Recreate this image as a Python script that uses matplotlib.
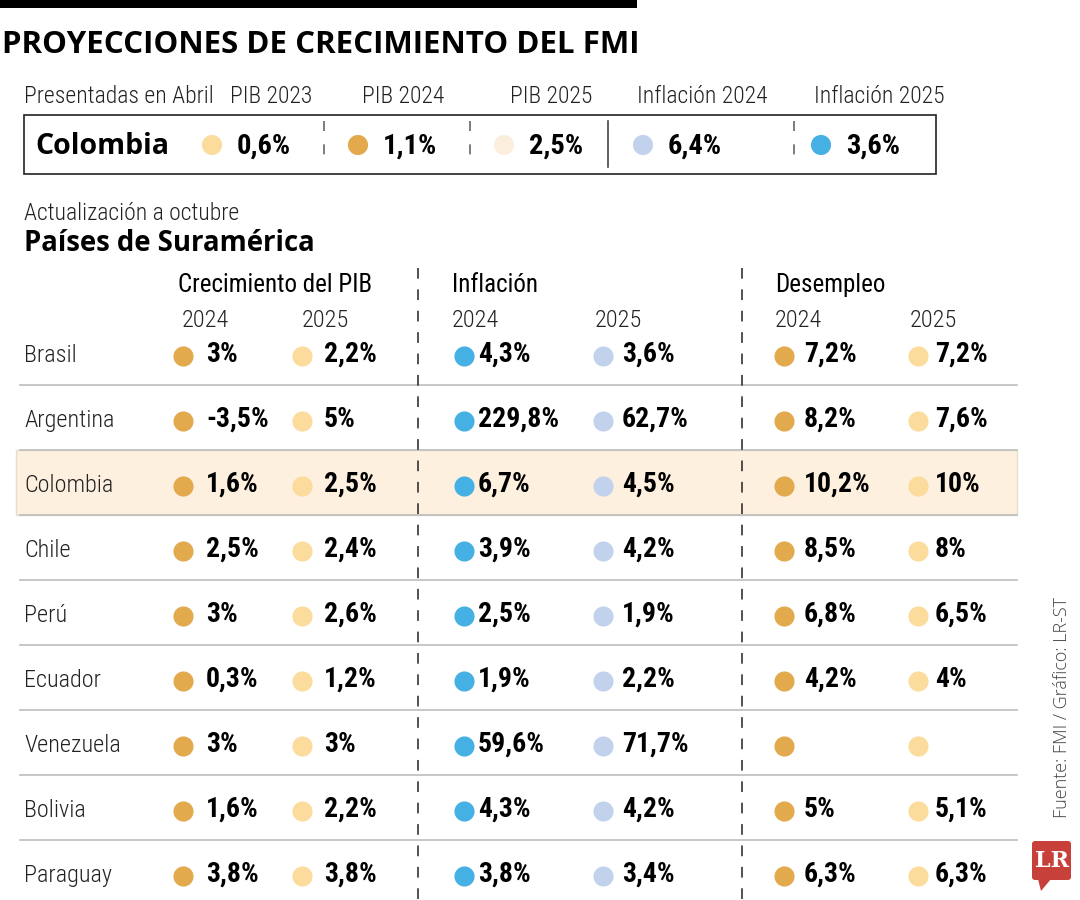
import matplotlib
matplotlib.use('Agg')
import matplotlib.pyplot as plt
from matplotlib import font_manager as fm
from matplotlib.patches import Rectangle, FancyBboxPatch, Polygon

# Datos (FMI)
legend_labels = ['PIB 2023', 'PIB 2024', 'PIB 2025', 'Inflación 2024', 'Inflación 2025']
legend_values = [0.6, 1.1, 2.5, 6.4, 3.6]

countries = ['Brasil', 'Argentina', 'Colombia', 'Chile', 'Perú', 'Ecuador',
             'Venezuela', 'Bolivia', 'Paraguay']
pib_2024 = [3, -3.5, 1.6, 2.5, 3, 0.3, 3, 1.6, 3.8]
pib_2025 = [2.2, 5, 2.5, 2.4, 2.6, 1.2, 3, 2.2, 3.8]
inf_2024 = [4.3, 229.8, 6.7, 3.9, 2.5, 1.9, 59.6, 4.3, 3.8]
inf_2025 = [3.6, 62.7, 4.5, 4.2, 1.9, 2.2, 71.7, 4.2, 3.4]
des_2024 = [7.2, 8.2, 10.2, 8.5, 6.8, 4.2, None, 5, 6.3]
des_2025 = [7.2, 7.6, 10, 8, 6.5, 4, None, 5.1, 6.3]

groups = ['Crecimiento del PIB', 'Inflación', 'Desempleo']
years = ['2024', '2025']

GOLD = '#E2A94D'
LIGHT_GOLD = '#FCDC9C'
CREAM = '#FCEEDD'
LIGHT_BLUE = '#C3D2EC'
BLUE = '#45B0E4'

available = {f.name for f in fm.fontManager.ttflist}


def pick(*names):
    return next((n for n in names if n in available), 'DejaVu Sans')


NARROW = pick('Liberation Sans Narrow', 'Roboto Condensed', 'Open Sans Condensed', 'DejaVu Sans')
HUMAN = pick('Open Sans', 'Noto Sans', 'DejaVu Sans')


def fmt(v):
    if v is None:
        return ''
    return '{:g}'.format(v).replace('.', ',') + '%'


fig = plt.figure(figsize=(10.8, 9), dpi=100)
ax = fig.add_axes([0, 0, 1, 1])
ax.set_xlim(0, 1080)
ax.set_ylim(900, 0)
ax.axis('off')

# barra superior y titulo
ax.add_patch(Rectangle((0, 0), 637, 8, color='black', lw=0))
ax.text(2, 53, 'PROYECCIONES DE CRECIMIENTO DEL FMI', family=HUMAN, weight='bold',
        fontsize=22.5, va='baseline', ha='left', color='black')

# Presentadas en abril
head_x = [230, 362, 510, 637, 814]
ax.text(24, 103, 'Presentadas en Abril', family=NARROW, weight='light', fontsize=17,
        va='baseline', color='#222')
for x, lab in zip(head_x, legend_labels):
    ax.text(x, 103, lab, family=NARROW, weight='light', fontsize=17, va='baseline', color='#222')

ax.add_patch(Rectangle((24, 115), 912, 59, fill=False, ec='#222', lw=1.2))
ax.text(35, 154, 'Colombia', family=HUMAN, weight='bold', fontsize=20.5, va='baseline', color='black')
legend_dot_x = [212, 358, 504, 643, 821]
legend_colors = [LIGHT_GOLD, GOLD, CREAM, LIGHT_BLUE, BLUE]
ax.scatter(legend_dot_x, [145] * 5, s=210, c=legend_colors, lw=0, zorder=3)
for x, v in zip(legend_dot_x, legend_values):
    ax.text(x + 25, 154, fmt(v), family=NARROW, weight='bold', fontsize=20.5,
            va='baseline', color='black')
for x in [324, 470, 794]:
    ax.plot([x, x], [121, 167], color='#666', lw=1.2, ls=(0, (6, 8)))
ax.plot([608, 608], [121, 167], color='#444', lw=1.2)

# subtitulos
ax.text(24, 220, 'Actualización a octubre', family=NARROW, weight='light', fontsize=17,
        va='baseline', color='#222')
ax.text(24, 251, 'Países de Suramérica', family=HUMAN, weight='bold', fontsize=19.8,
        va='baseline', color='black')

# encabezados de la tabla
ax.text(178, 292, groups[0], family=NARROW, fontsize=18, va='baseline', color='black')
ax.text(452, 292, groups[1], family=NARROW, fontsize=18, va='baseline', color='black')
ax.text(775, 292, groups[2], family=NARROW, fontsize=18, va='baseline', color='black')
for x, yr in zip([182, 302, 452, 595, 775, 910], years * 3):
    ax.text(x, 327, yr, family=NARROW, weight='light', fontsize=17.5, va='baseline', color='#222')

row_h = 65
row0 = 356
n = len(countries)

# fila resaltada de Colombia
ci = countries.index('Colombia')
ax.add_patch(Rectangle((16, row0 + 29 + (ci - 1) * row_h), 1001, row_h,
                       fc='#FDF0DF', ec='#E6DCCF', lw=1, zorder=0))

for i in range(n - 1):
    yl = row0 + 29 + i * row_h
    ax.plot([20, 1017], [yl, yl], color='#BDBDBD', lw=1.2, zorder=1)

for x in [418, 742]:
    ax.plot([x, x], [268, 900], color='#222', lw=1.1, ls=(0, (7, 7)), zorder=1)

columns = [
    (pib_2024, GOLD, 183, 206),
    (pib_2025, LIGHT_GOLD, 302, 324),
    (inf_2024, BLUE, 464, 478),
    (inf_2025, LIGHT_BLUE, 603, 622),
    (des_2024, GOLD, 784, 804),
    (des_2025, LIGHT_GOLD, 918, 935),
]

for i, name in enumerate(countries):
    yc = row0 + i * row_h
    ax.text(24, yc + 6, name, family=NARROW, weight='light', fontsize=17.5,
            va='baseline', color='#222')
    for vals, col, dx, tx in columns:
        ax.scatter([dx], [yc], s=210, c=col, lw=0, zorder=3)
        ax.text(tx, yc + 6, fmt(vals[i]), family=NARROW, weight='bold', fontsize=20,
                va='baseline', color='black')

# fuente y logo
ax.text(1062, 708, 'Fuente: FMI / Gráfico: LR-ST', family=HUMAN, weight='light',
        fontsize=13, rotation=90, ha='center', va='center', color='#444')
ax.add_patch(FancyBboxPatch((1032, 841), 39, 39, boxstyle='round,pad=0,rounding_size=3',
                            color='#C8403A', lw=0))
ax.add_patch(Polygon([[1038, 879], [1051, 879], [1041, 891]], closed=True,
                     color='#C8403A', lw=0))
ax.text(1051.5, 861, 'LR', family='DejaVu Serif', weight='bold', fontsize=16,
        ha='center', va='center', color='white')

fig.savefig('out.png', dpi=100)
